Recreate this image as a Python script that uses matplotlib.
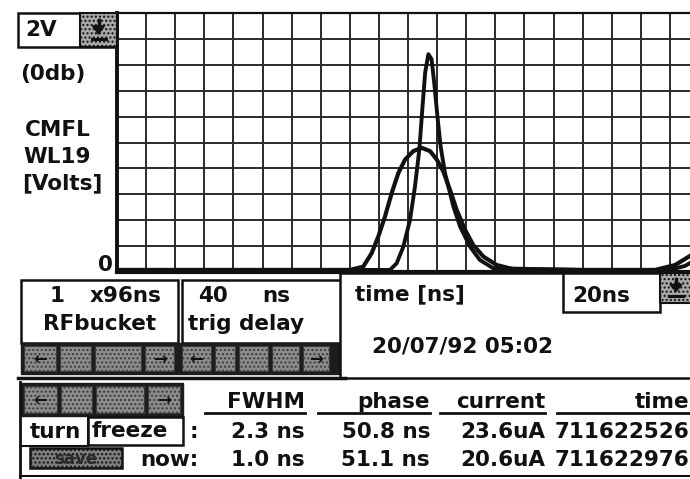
import matplotlib.pyplot as plt
from matplotlib.patches import Rectangle, Polygon

# sampled traces: time [ns] vs CMFL WL19 signal [V]
t_frozen = [40.0, 44.0, 48.0, 48.46, 48.75, 48.98, 49.21, 49.44, 49.67, 49.90,
            50.18, 50.47, 50.76, 50.99, 51.21, 51.44, 51.67, 51.96, 52.24,
            52.59, 53.05, 53.62, 56.0, 58.49, 59.18, 59.69, 60.0]
v_frozen = [0.016, 0.016, 0.016, 0.041, 0.145, 0.274, 0.429, 0.610, 0.765, 0.868,
            0.933, 0.959, 0.933, 0.868, 0.778, 0.636, 0.481, 0.326, 0.209,
            0.119, 0.054, 0.021, 0.016, 0.016, 0.054, 0.124, 0.171]

t_now = [40.0, 45.0, 49.38, 49.61, 49.84, 50.07, 50.24, 50.39, 50.50, 50.59,
         50.70, 50.81, 50.90, 51.01, 51.12, 51.27, 51.56, 51.79, 52.13, 52.47,
         52.93, 56.0, 58.99, 59.52, 60.0]
v_now = [0.016, 0.016, 0.016, 0.067, 0.196, 0.403, 0.661, 0.946, 1.281, 1.540,
         1.682, 1.643, 1.463, 1.204, 0.971, 0.765, 0.506, 0.351, 0.196, 0.093,
         0.029, 0.016, 0.016, 0.047, 0.109]

# measurement table
headers = ["FWHM", "phase", "current", "time"]
row_frozen = ["2.3 ns", "50.8 ns", "23.6uA", "711622526"]
row_now = ["1.0 ns", "51.1 ns", "20.6uA", "711622976"]

W, H = 690, 479
FS = 15.5
INK = "#111111"

fig = plt.figure(figsize=(W / 100, H / 100), dpi=100)
fig.patch.set_facecolor("white")

# scope screen, placed in pixel units (left 117, right 699, top 13, bottom 272)
x0, x1, y0, y1 = 117, 699, 13, 272
ax = fig.add_axes([x0 / W, 1 - y1 / H, (x1 - x0) / W, (y1 - y0) / H])
ax.set_xlim(40, 60)
ax.set_ylim(0, 2.0)
ax.set_xticks([40 + i for i in range(21)])
ax.set_yticks([0.2 * i for i in range(11)])
ax.tick_params(length=0, labelbottom=False, labelleft=False)
ax.grid(True, color="#2a2a2a", lw=1.4)
ax.set_axisbelow(True)
for side, lw in [("left", 2.8), ("bottom", 3.0), ("top", 1.6)]:
    ax.spines[side].set_linewidth(lw)
    ax.spines[side].set_color(INK)
ax.spines["right"].set_visible(False)
ax.plot(t_frozen, v_frozen, color=INK, lw=3.0, solid_capstyle="round",
        solid_joinstyle="round", clip_on=False)
ax.plot(t_now, v_now, color=INK, lw=2.8, solid_capstyle="round",
        solid_joinstyle="round", clip_on=False)

# overlay for the control panel, in pixel coordinates
ov = fig.add_axes([0, 0, 1, 1], zorder=5)
ov.set_xlim(0, W)
ov.set_ylim(H, 0)
ov.axis("off")
ov.patch.set_alpha(0)


def txt(x, base, s, ha="left", size=FS, color=INK):
    ov.text(x, base, s, ha=ha, va="baseline", fontsize=size,
            fontweight="bold", color=color, family="DejaVu Sans")


def box(x, y, w, h, fc="white", lw=1.8, **kw):
    ov.add_patch(Rectangle((x, y), w, h, facecolor=fc, edgecolor=INK, lw=lw, **kw))


def down_icon(x, y, w, h):
    box(x, y, w, h, fc="#a8a8a8", hatch="....", lw=1.5)
    cx = x + w / 2
    ov.add_patch(Polygon([(cx - 6, y + h * 0.38), (cx + 6, y + h * 0.38),
                          (cx, y + h * 0.62)], closed=True, color=INK))
    ov.plot([cx, cx], [y + h * 0.2, y + h * 0.4], color=INK, lw=2.5)
    ov.plot([cx - 7, cx + 7], [y + h * 0.75, y + h * 0.75], color=INK, lw=2.2)


def button_row(x, y, widths, h, arrows):
    pos = x
    for w, a in zip(widths, arrows):
        ov.add_patch(Rectangle((pos, y + 3), w - 4, h - 6, facecolor="#8c8c8c",
                               edgecolor="#3a3a3a", hatch="....", lw=0.8))
        if a:
            txt(pos + (w - 4) / 2, y + h / 2 + 6, a, ha="center", size=12)
        pos += w


# vertical scale selector and axis label
box(18, 13, 99, 34)
txt(25, 36, "2V")
down_icon(80, 13, 37, 34)
txt(20, 80, "(0db)")
txt(25, 136, "CMFL")
txt(23, 163, "WL19")
txt(22, 189, "[Volts]")
txt(113, 271, "0", ha="right")

# bucket / trigger delay boxes
box(21, 280, 157, 63)
txt(50, 302, "1")
txt(90, 302, "x96ns")
txt(43, 330, "RFbucket")
box(182, 280, 160, 63)
txt(198, 302, "40")
txt(262, 302, "ns")
txt(188, 330, "trig delay")
ov.add_patch(Rectangle((21, 343), 321, 31, color="#1c1c1c"))
button_row(24, 343, [36, 35, 50, 33], 31, ["←", "", "", "→"])
button_row(182, 343, [33, 24, 33, 31, 30], 31, ["←", "", "", "", "→"])
ov.plot([18, 345], [378, 378], color=INK, lw=2.5)

# time axis panel
box(340, 273, 360, 105)
txt(355, 300, "time [ns]")
box(563, 273, 97, 39)
txt(572, 302, "20ns")
down_icon(660, 273, 32, 30)
txt(372, 353, "20/07/92 05:02")

# freeze / save controls
ov.plot([20, 20], [382, 479], color=INK, lw=2)
ov.add_patch(Rectangle((21, 383), 162, 33, color="#1c1c1c"))
button_row(24, 383, [37, 35, 52, 36], 33, ["←", "", "", "→"])
ov.plot([21, 88], [446, 446], color=INK, lw=1.5)
ov.plot([88, 88], [416, 446], color=INK, lw=1.5)
txt(30, 438, "turn")
box(88, 417, 95, 28)
txt(92, 437, "freeze")
txt(190, 438, ":")
box(30, 448, 92, 20, fc="#7d7d7d", hatch="....", lw=1.8)
txt(76, 464, "save", ha="center", size=12, color="#2a2a2a")
txt(140, 466, "now:")
ov.plot([20, 690], [476, 476], color=INK, lw=1.5)

# measurement table, right-aligned columns with underlined headers
col_right = [305, 430, 545, 689]
col_left = [205, 318, 440, 557]
for xl, xr, head, a, b in zip(col_left, col_right, headers, row_frozen, row_now):
    txt(xr, 408, head, ha="right")
    ov.plot([xl, xr], [413, 413], color=INK, lw=2)
    txt(xr, 438, a, ha="right")
    txt(xr, 466, b, ha="right")

fig.savefig("out.png", dpi=100)
